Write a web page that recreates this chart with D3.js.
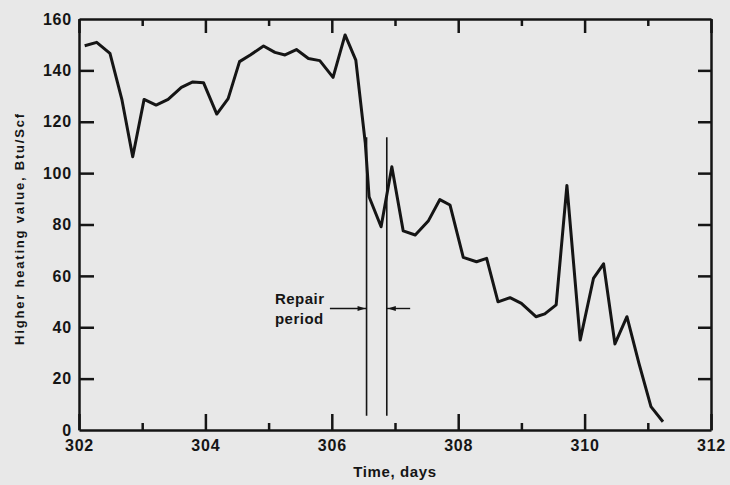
<!DOCTYPE html>
<html>
<head>
<meta charset="utf-8">
<script src="https://cdn.jsdelivr.net/npm/d3@7"></script>
<style>
    body { margin: 0; background: #e8e8e8; }
    svg { display: block; font-family: "Liberation Sans", Arial, sans-serif; }
</style>
</head>
<body>
<div id="chart"></div>
<script>
// 数据
const days = [302.09, 302.28, 302.49, 302.68, 302.85, 303.03, 303.22, 303.41, 303.62, 303.80,
    303.97, 304.18, 304.36, 304.54, 304.71, 304.92, 305.10, 305.26, 305.44, 305.63,
    305.81, 306.02, 306.21, 306.38, 306.53, 306.59, 306.78, 306.95, 307.13, 307.32,
    307.53, 307.71, 307.87, 308.08, 308.29, 308.45, 308.63, 308.82, 309.00, 309.23,
    309.37, 309.55, 309.72, 309.93, 310.14, 310.30, 310.48, 310.67, 310.86, 311.05, 311.24];
const hhv = [149.6, 150.9, 146.6, 128.5, 106.4, 128.7, 126.5, 128.7, 133.4, 135.5,
    135.2, 123.0, 129.0, 143.4, 146.0, 149.5, 147.0, 146.0, 148.1, 144.6,
    143.8, 137.3, 153.8, 144.0, 111.7, 90.8, 79.1, 102.5, 77.5, 75.9,
    81.5, 89.7, 87.6, 67.2, 65.5, 66.8, 49.9, 51.5, 49.3, 44.1,
    45.2, 48.7, 95.2, 35.0, 59.0, 64.7, 33.5, 44.1, 25.9, 9.1, 3.2];

const xTicks = [302, 303, 304, 305, 306, 307, 308, 309, 310, 311, 312];
const yTicks = [0, 20, 40, 60, 80, 100, 120, 140, 160];

// 维修期标注
const repairDays = [306.55, 306.87];
const repairRange = [5.5, 114];
const repairArrowLevel = 47.3;
const repairArrowEnds = [305.97, 307.24];
const repairLabel = ['Repair', 'period'];

const W = 730, H = 485;
const margin = { top: 19, right: 19, bottom: 55, left: 79 };
const w = W - margin.left - margin.right;
const h = H - margin.top - margin.bottom;
const ink = '#151515';

const svg = d3.select('#chart').append('svg')
    .attr('width', W).attr('height', H);

const g = svg.append('g')
    .attr('transform', `translate(${margin.left},${margin.top})`);

const x = d3.scaleLinear().domain([302, 312]).range([0, w]);
const y = d3.scaleLinear().domain([0, 160]).range([h, 0]);

function styleAxis(sel) {
    sel.select('.domain').attr('stroke', ink).attr('stroke-width', 2.5);
    sel.selectAll('.tick line').attr('stroke', ink).attr('stroke-width', 2.5);
    sel.selectAll('.tick text')
        .attr('fill', ink)
        .style('font-size', '16px')
        .style('font-weight', 'bold')
        .style('letter-spacing', '0.8px');
}

// 底轴
const xb = g.append('g')
    .attr('transform', `translate(0,${h})`)
    .call(d3.axisBottom(x).tickValues(xTicks).tickSize(0).tickSizeOuter(0).tickPadding(10)
        .tickFormat(d => d % 2 === 0 ? d : ''));
xb.selectAll('.tick line').attr('y2', d => d % 2 === 0 ? -16 : -7);
styleAxis(xb);

// 顶轴
const xt = g.append('g')
    .call(d3.axisTop(x).tickValues(xTicks).tickSize(0).tickSizeOuter(0).tickFormat(''));
xt.selectAll('.tick line').attr('y2', d => d % 2 === 0 ? 14 : 7);
styleAxis(xt);

// 左轴
const yl = g.append('g')
    .call(d3.axisLeft(y).tickValues(yTicks).tickSize(-15).tickSizeOuter(0).tickPadding(7));
styleAxis(yl);
yl.selectAll('.tick').filter(d => d === 0 || d === 160).select('line').remove();

// 右轴
const yr = g.append('g')
    .attr('transform', `translate(${w},0)`)
    .call(d3.axisRight(y).tickValues(yTicks).tickSize(-13).tickSizeOuter(0).tickFormat(''));
styleAxis(yr);
yr.selectAll('.tick').filter(d => d === 0 || d === 160).select('line').remove();

// 数据线
const line = d3.line()
    .x((d, i) => x(days[i]))
    .y(d => y(d));

g.append('path')
    .datum(hhv)
    .attr('fill', 'none')
    .attr('stroke', ink)
    .attr('stroke-width', 3)
    .attr('stroke-linejoin', 'round')
    .attr('d', line);

// 维修期竖线
repairDays.forEach(d => {
    g.append('line')
        .attr('x1', x(d)).attr('x2', x(d))
        .attr('y1', y(repairRange[0])).attr('y2', y(repairRange[1]))
        .attr('stroke', ink).attr('stroke-width', 1.6);
});

// 箭头
const ay = y(repairArrowLevel);
g.append('line')
    .attr('x1', x(repairArrowEnds[0])).attr('x2', x(repairDays[0]))
    .attr('y1', ay).attr('y2', ay)
    .attr('stroke', ink).attr('stroke-width', 1.4);
g.append('line')
    .attr('x1', x(repairDays[1])).attr('x2', x(repairArrowEnds[1]))
    .attr('y1', ay).attr('y2', ay)
    .attr('stroke', ink).attr('stroke-width', 1.4);
g.append('path')
    .attr('d', `M${x(repairDays[0]) - 1},${ay} l-8,-2.5 l0,5 z`)
    .attr('fill', ink);
g.append('path')
    .attr('d', `M${x(repairDays[1]) + 1},${ay} l8,-2.5 l0,5 z`)
    .attr('fill', ink);

// 维修期文字
g.append('text')
    .attr('fill', ink)
    .style('font-size', '15px').style('font-weight', 'bold')
    .style('letter-spacing', '0.5px')
    .selectAll('tspan')
    .data(repairLabel)
    .join('tspan')
    .attr('x', x(repairArrowEnds[0]) - 55)
    .attr('y', (d, i) => ay - 4 + i * 20)
    .text(d => d);

// 轴标题
svg.append('text')
    .attr('x', margin.left + w / 2).attr('y', 477)
    .attr('text-anchor', 'middle')
    .attr('fill', ink)
    .style('font-size', '15px').style('font-weight', 'bold')
    .style('letter-spacing', '0.6px')
    .text('Time, days');

svg.append('text')
    .attr('transform', `translate(24,${margin.top + h / 2 + 4}) rotate(-90)`)
    .attr('text-anchor', 'middle')
    .attr('fill', ink)
    .style('font-size', '13px').style('font-weight', 'bold')
    .style('letter-spacing', '1.8px')
    .text('Higher heating value, Btu/Scf');
</script>
</body>
</html>
